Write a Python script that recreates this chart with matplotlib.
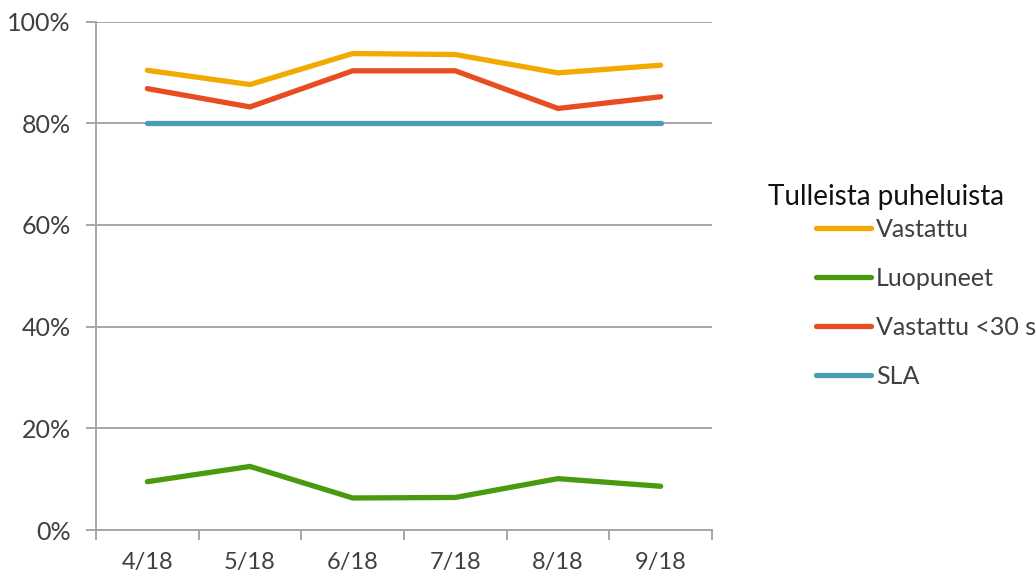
import matplotlib
matplotlib.use("Agg")
import matplotlib.pyplot as plt
import numpy as np
from matplotlib.ticker import FixedLocator, PercentFormatter

plt.rcParams['font.family'] = ['Lato', 'DejaVu Sans']

months = ["4/18", "5/18", "6/18", "7/18", "8/18", "9/18"]
vastattu = [90.4, 87.6, 93.7, 93.5, 89.9, 91.4]
luopuneet = [9.5, 12.5, 6.3, 6.4, 10.1, 8.6]
vastattu_30 = [86.8, 83.2, 90.3, 90.3, 82.9, 85.2]
sla = [80, 80, 80, 80, 80, 80]

series_names = ["Vastattu", "Luopuneet", "Vastattu <30 s", "SLA"]
colors = ["#F2AA00", "#4A9A10", "#E84D22", "#4B9DB6"]
legend_title = "Tulleista puheluista"

fig = plt.figure(figsize=(10.36, 5.76), dpi=100)
ax = fig.add_axes([96/1036, 46/576, (712-96)/1036, (530-21.5)/576])

x = np.arange(len(months))
grid_c = "#A6A6A6"
for vals, name, c in zip([vastattu, luopuneet, vastattu_30, sla], series_names, colors):
    ax.plot(x, vals, color=c, lw=3.8, solid_capstyle='round', solid_joinstyle='miter', label=name, zorder=3)

ax.set_xlim(-0.5, len(months) - 0.5)
ax.set_ylim(0, 100)
ax.set_yticks(np.arange(0, 101, 20))
ax.yaxis.set_major_formatter(PercentFormatter(decimals=0))
ax.grid(axis='y', color=grid_c, lw=1.4)
ax.set_axisbelow(True)

ax.set_xticks(x)
ax.set_xticklabels(months)
ax.xaxis.set_minor_locator(FixedLocator(np.arange(-0.5, len(months), 1.0)))
ax.tick_params(axis='x', which='major', length=0, pad=16, labelsize=17, labelcolor="#404040")
ax.tick_params(axis='x', which='minor', length=7, width=1.4, color=grid_c, direction='out')
ax.tick_params(axis='y', length=7, width=1.4, color=grid_c, pad=11, labelsize=18, labelcolor="#404040")

for s in ['top', 'right']:
    ax.spines[s].set_visible(False)
for s in ['left', 'bottom']:
    ax.spines[s].set_color(grid_c)
    ax.spines[s].set_linewidth(1.4)

fig.text(768/1036, 1 - 197/576, legend_title, fontsize=20, color="#111111", va='center', ha='left')
leg = fig.legend(loc='upper left', bbox_to_anchor=(816/1036, 1 - 218/576), frameon=False,
                 fontsize=18, handlelength=2.2, handletextpad=0.2, labelspacing=1.04,
                 borderpad=0, borderaxespad=0)
for t in leg.get_texts():
    t.set_color("#404040")
for h in leg.get_lines():
    h.set_linewidth(3.8)
    h.set_solid_capstyle('round')

fig.savefig("out.png", dpi=100)
